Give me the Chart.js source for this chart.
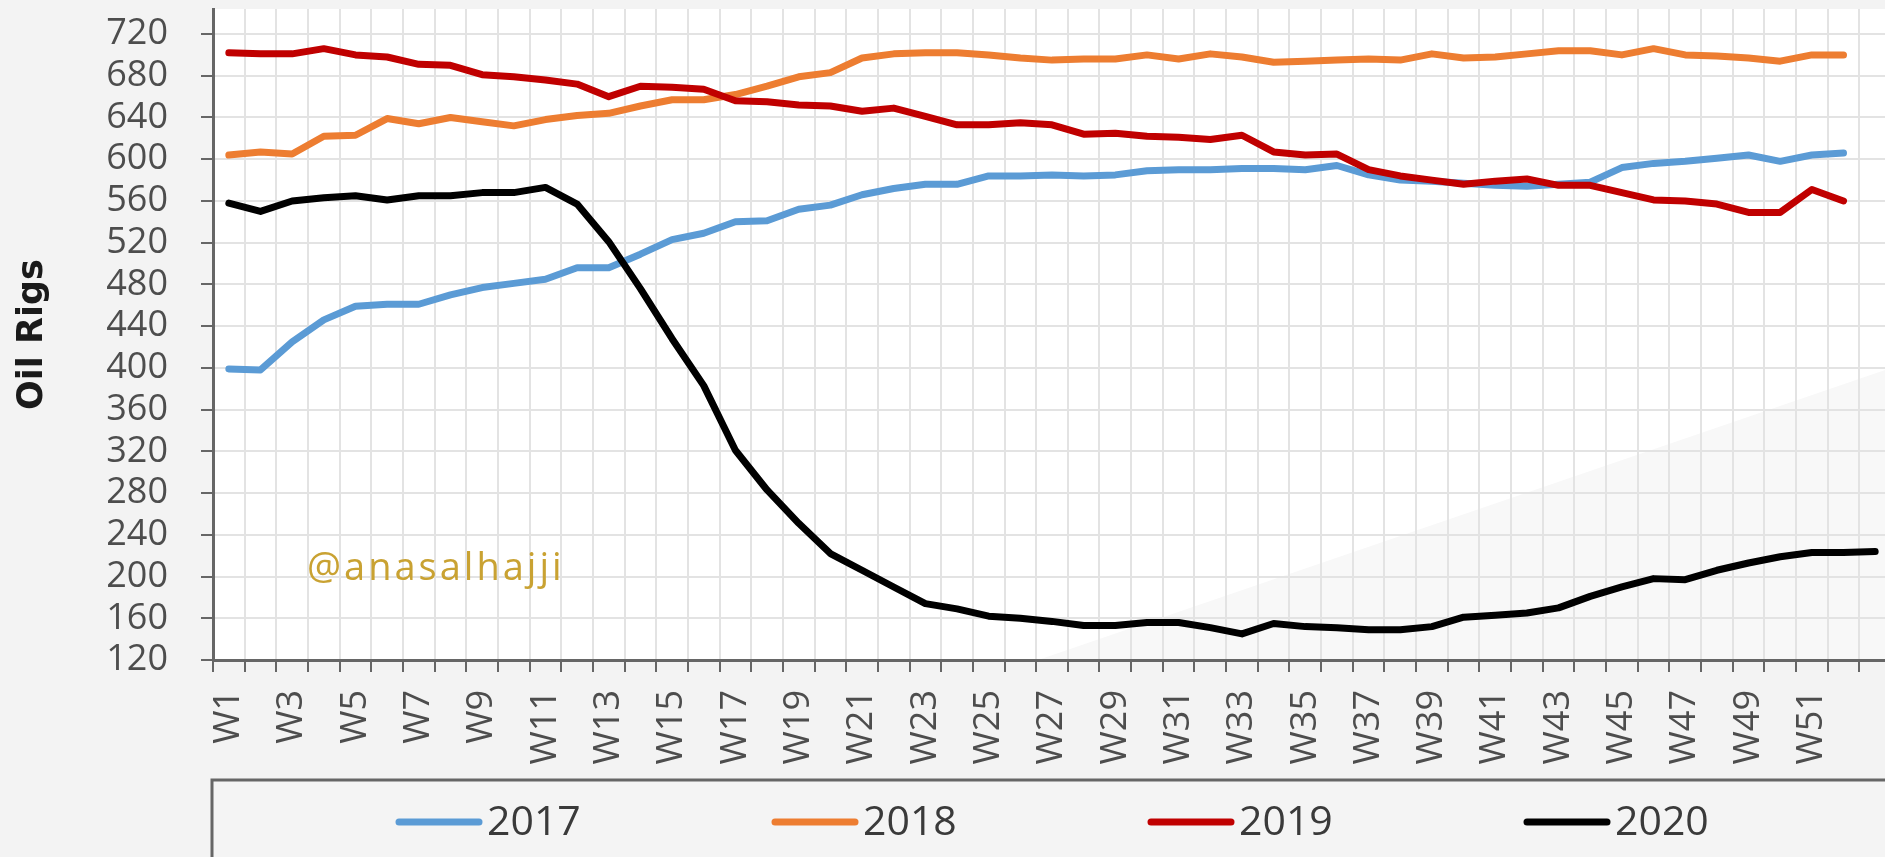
<!DOCTYPE html>
<html>
<head>
<meta charset="utf-8">
<title>Oil Rigs</title>
<script src="https://cdn.jsdelivr.net/npm/chart.js@4.4.1/dist/chart.umd.min.js"></script>
<style>
  html, body { margin: 0; padding: 0; overflow: hidden; background: #f3f3f3; }
  #wrap { position: absolute; left: 0; top: 0; }
</style>
</head>
<body>
<div id="wrap"><canvas id="rigChart" width="1891" height="857"></canvas></div>
<script>
// weekly categories
const weeks = ['W1','W2','W3','W4','W5','W6','W7','W8','W9','W10','W11','W12','W13','W14','W15','W16','W17','W18','W19','W20',
  'W21','W22','W23','W24','W25','W26','W27','W28','W29','W30','W31','W32','W33','W34','W35','W36','W37','W38','W39','W40',
  'W41','W42','W43','W44','W45','W46','W47','W48','W49','W50','W51','W52','W53'];

const yTicks = [120, 160, 200, 240, 280, 320, 360, 400, 440, 480, 520, 560, 600, 640, 680, 720];

// rig counts
const rigs2017 = [399, 398, 425, 446, 459, 461, 461, 470, 477, 481, 485, 496, 496, 509, 523, 529, 540, 541, 552, 556,
  566, 572, 576, 576, 584, 584, 585, 584, 585, 589, 590, 590, 591, 591, 590, 594, 585, 580, 579, 577,
  575, 574, 576, 578, 592, 596, 598, 601, 604, 598, 604, 606];
const rigs2018 = [604, 607, 605, 622, 623, 639, 634, 640, 636, 632, 638, 642, 644, 651, 657, 657, 662, 670, 679, 683,
  697, 701, 702, 702, 700, 697, 695, 696, 696, 700, 696, 701, 698, 693, 694, 695, 696, 695, 701, 697,
  698, 701, 704, 704, 700, 706, 700, 699, 697, 694, 700, 700];
const rigs2019 = [702, 701, 701, 706, 700, 698, 691, 690, 681, 679, 676, 672, 660, 670, 669, 667, 656, 655, 652, 651,
  646, 649, 641, 633, 633, 635, 633, 624, 625, 622, 621, 619, 623, 607, 604, 605, 590, 584, 580, 576,
  579, 581, 575, 575, 568, 561, 560, 557, 549, 549, 571, 560];
const rigs2020 = [558, 550, 560, 563, 565, 561, 565, 565, 568, 568, 573, 557, 521, 476, 428, 383, 321, 283, 251, 222,
  206, 190, 174, 169, 162, 160, 157, 153, 153, 156, 156, 151, 145, 155, 152, 151, 149, 149, 152, 161,
  163, 165, 170, 181, 190, 198, 197, 206, 213, 219, 223, 223, 224];

const seriesNames = ['2017', '2018', '2019', '2020'];
const seriesColors = ['#5b9bd5', '#ed7d31', '#c00000', '#000000'];

const axisColor = '#666666';
const gridColor = '#e3e3e3';
const labelColor = '#4d4d4d';
const labelFont = { family: 'Open Sans', size: 36 };

// page + plot backgrounds
const backdrop = {
    id: 'backdrop',
    beforeDraw(chart) {
        const { ctx, chartArea: a, width, height } = chart;
        ctx.save();
        ctx.fillStyle = '#f3f3f3';
        ctx.fillRect(0, 0, width, height);
        ctx.fillStyle = '#ffffff';
        ctx.fillRect(a.left, a.top, a.right - a.left, a.bottom - a.top);
        // faint diagonal shading, lower right
        ctx.fillStyle = '#f8f8f8';
        ctx.beginPath();
        ctx.moveTo(a.left + 825, a.bottom);
        ctx.lineTo(a.right, a.bottom - 292);
        ctx.lineTo(a.right, a.bottom);
        ctx.closePath();
        ctx.fill();
        ctx.restore();
    }
};

// @anasalhajji tag
const watermark = {
    id: 'watermark',
    beforeDatasetsDraw(chart) {
        const { ctx, chartArea: a } = chart;
        ctx.save();
        ctx.font = '38px "Open Sans"';
        ctx.letterSpacing = '3px';
        ctx.fillStyle = '#c9a232';
        ctx.textBaseline = 'alphabetic';
        ctx.fillText('@anasalhajji', a.left + 94, a.bottom - 80);
        ctx.restore();
    }
};

// boxed legend under the axis
const legendBox = {
    id: 'legendBox',
    afterDraw(chart) {
        const { ctx, chartArea: a, width } = chart;
        const top = a.bottom + 120;
        const left = a.left - 1;
        ctx.save();
        ctx.fillStyle = '#f4f4f4';
        ctx.fillRect(left, top, width - left + 10, 120);
        ctx.strokeStyle = axisColor;
        ctx.lineWidth = 3;
        ctx.strokeRect(left, top, width - left + 10, 120);

        ctx.font = '41px "Open Sans"';
        ctx.textBaseline = 'alphabetic';
        ctx.fillStyle = '#3a3a3a';
        chart.data.datasets.forEach((ds, i) => {
            const x = 399 + i * 376;
            const y = top + 42;
            ctx.strokeStyle = ds.borderColor;
            ctx.lineWidth = 7;
            ctx.lineCap = 'round';
            ctx.beginPath();
            ctx.moveTo(x, y);
            ctx.lineTo(x + 80, y);
            ctx.stroke();
            ctx.fillText(ds.label, x + 88, y + 13);
        });
        ctx.restore();
    }
};

const allSeries = [rigs2017, rigs2018, rigs2019, rigs2020];

new Chart(document.getElementById('rigChart'), {
    type: 'line',
    data: {
        labels: weeks,
        datasets: allSeries.map((vals, i) => ({
            label: seriesNames[i],
            data: vals,
            borderColor: seriesColors[i],
            backgroundColor: seriesColors[i],
            borderWidth: 7,
            pointRadius: 0,
            tension: 0,
            borderJoinStyle: 'round',
            borderCapStyle: 'round',
            order: 4 - i
        }))
    },
    options: {
        responsive: false,
        animation: false,
        devicePixelRatio: 1,
        layout: { padding: { top: 9, bottom: 77, left: 0, right: 0 } },
        plugins: {
            legend: { display: false },
            tooltip: { enabled: false }
        },
        scales: {
            x: {
                offset: true,
                grid: { offset: true, color: gridColor, lineWidth: 2, tickColor: axisColor, tickLength: 12, tickWidth: 2 },
                border: { color: axisColor, width: 3 },
                ticks: {
                    autoSkip: false,
                    minRotation: 90,
                    maxRotation: 90,
                    padding: 18,
                    color: labelColor,
                    font: labelFont,
                    callback: function(val, index) {
                        return index % 2 === 0 && index < 52 ? this.getLabelForValue(val) : '';
                    }
                },
                afterFit(scale) {
                    scale.height = 120;
                    scale.paddingLeft = 0;
                    scale.paddingRight = 0;
                }
            },
            y: {
                min: 120,
                max: 744,
                afterBuildTicks(scale) {
                    scale.ticks = yTicks.map(v => ({ value: v }));
                },
                grid: { color: gridColor, lineWidth: 2, tickColor: axisColor, tickLength: 12, tickWidth: 2 },
                border: { color: axisColor, width: 3 },
                ticks: { autoSkip: false, padding: 33, color: labelColor, font: labelFont },
                title: {
                    display: true,
                    text: 'Oil Rigs',
                    color: '#1a1a1a',
                    font: { family: 'DejaVu Sans', weight: 'bold', size: 35 },
                    padding: { top: 12 }
                },
                afterFit(scale) {
                    scale.width = 213;
                    scale.paddingTop = 0;
                    scale.paddingBottom = 0;
                }
            }
        }
    },
    plugins: [backdrop, watermark, legendBox]
});
</script>
</body>
</html>
